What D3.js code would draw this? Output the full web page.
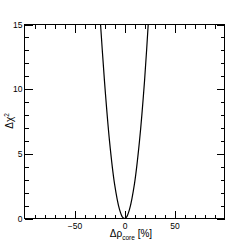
<!DOCTYPE html>
<html>
<head>
<meta charset="utf-8">
<script src="https://cdn.jsdelivr.net/npm/d3@7"></script>
<style type="text/css">
body { margin: 0; background: #fff; }
text { font-family: "Liberation Sans", Arial, sans-serif; fill: #000; }
.axis text { font-size: 8.5px; }
.axis line { stroke: #000; stroke-width: 1; shape-rendering: crispEdges; }
.axis path { display: none; }
</style>
</head>
<body>
<svg id="chart" width="249" height="243"></svg>
<script type="text/javascript">
// scan points
var deltaRho = [-26, -25, -20, -15, -10, -5, -2, 0, 2, 5, 10, 15, 20, 25, 26];
var deltaChi2 = [17.2, 16.2, 10.6, 6.0, 2.7, 0.7, 0.1, 0.0, 0.1, 0.7, 2.7, 6.0, 10.6, 16.6, 17.8];

var xMajor = [-50, 0, 50];
var xMinor = [-90, -80, -70, -60, -40, -30, -20, -10, 10, 20, 30, 40, 60, 70, 80, 90];
var yMajor = [0, 5, 10, 15];
var yMinor = [1, 2, 3, 4, 6, 7, 8, 9, 11, 12, 13, 14];

var svg = d3.select("#chart");
// frame edges (note: "top" is reserved on window)
var fL = 24.5, fR = 224.5, fT = 24.5, fB = 218.5;

var x = d3.scaleLinear().domain([-100, 100]).range([fL, fR]);
var y = d3.scaleLinear().domain([0, 15]).range([fB, fT]);

// clip for the curve
svg.append("clipPath").attr("id", "frame-clip")
  .append("rect").attr("x", fL).attr("y", fT)
  .attr("width", fR - fL).attr("height", fB - fT);

var pts = deltaRho.map(function(d, i){ return [d, deltaChi2[i]]; });
var line = d3.line().x(function(d){ return x(d[0]); }).y(function(d){ return y(d[1]); })
  .curve(d3.curveCatmullRom);
svg.append("path").datum(pts)
  .attr("clip-path", "url(#frame-clip)")
  .attr("d", line)
  .style("fill", "none").style("stroke", "#000").style("stroke-width", 1.2);

// axes, ticks pointing inward
function addAxis(axis, tx, ty){
  return svg.append("g").attr("class", "axis")
    .attr("transform", "translate(" + tx + "," + ty + ")").call(axis);
}
addAxis(d3.axisBottom(x).tickValues(xMajor).tickSizeInner(-8).tickSizeOuter(0).tickPadding(4), 0, fB);
addAxis(d3.axisBottom(x).tickValues(xMinor).tickSizeInner(-4).tickSizeOuter(0).tickFormat(""), 0, fB);
addAxis(d3.axisTop(x).tickValues(xMajor).tickSizeInner(-8).tickSizeOuter(0).tickFormat(""), 0, fT);
addAxis(d3.axisTop(x).tickValues(xMinor).tickSizeInner(-4).tickSizeOuter(0).tickFormat(""), 0, fT);
addAxis(d3.axisLeft(y).tickValues(yMajor).tickSizeInner(-8).tickSizeOuter(0).tickPadding(2), fL, 0);
addAxis(d3.axisLeft(y).tickValues(yMinor).tickSizeInner(-4).tickSizeOuter(0).tickFormat(""), fL, 0);
addAxis(d3.axisRight(y).tickValues(yMajor).tickSizeInner(-8).tickSizeOuter(0).tickFormat(""), fR, 0);
addAxis(d3.axisRight(y).tickValues(yMinor).tickSizeInner(-4).tickSizeOuter(0).tickFormat(""), fR, 0);

// frame
svg.append("rect").attr("x", fL).attr("y", fT)
  .attr("width", fR - fL).attr("height", fB - fT)
  .style("fill", "none").style("stroke", "#000").style("stroke-width", 1)
  .style("shape-rendering", "crispEdges");

// axis titles
var xt = svg.append("text").attr("x", 131).attr("y", 237).attr("text-anchor", "middle")
  .style("font-size", "10px");
xt.append("tspan").text("\u0394\u03c1");
xt.append("tspan").attr("dy", 3).style("font-size", "6.5px").text("core");
xt.append("tspan").attr("dy", -3).text(" [%]");

var yt = svg.append("text").attr("transform", "translate(13,121) rotate(-90)")
  .attr("text-anchor", "middle").style("font-size", "10px");
yt.append("tspan").text("\u0394\u03c7");
yt.append("tspan").attr("dy", -4).style("font-size", "6.5px").text("2");
</script>
</body>
</html>
